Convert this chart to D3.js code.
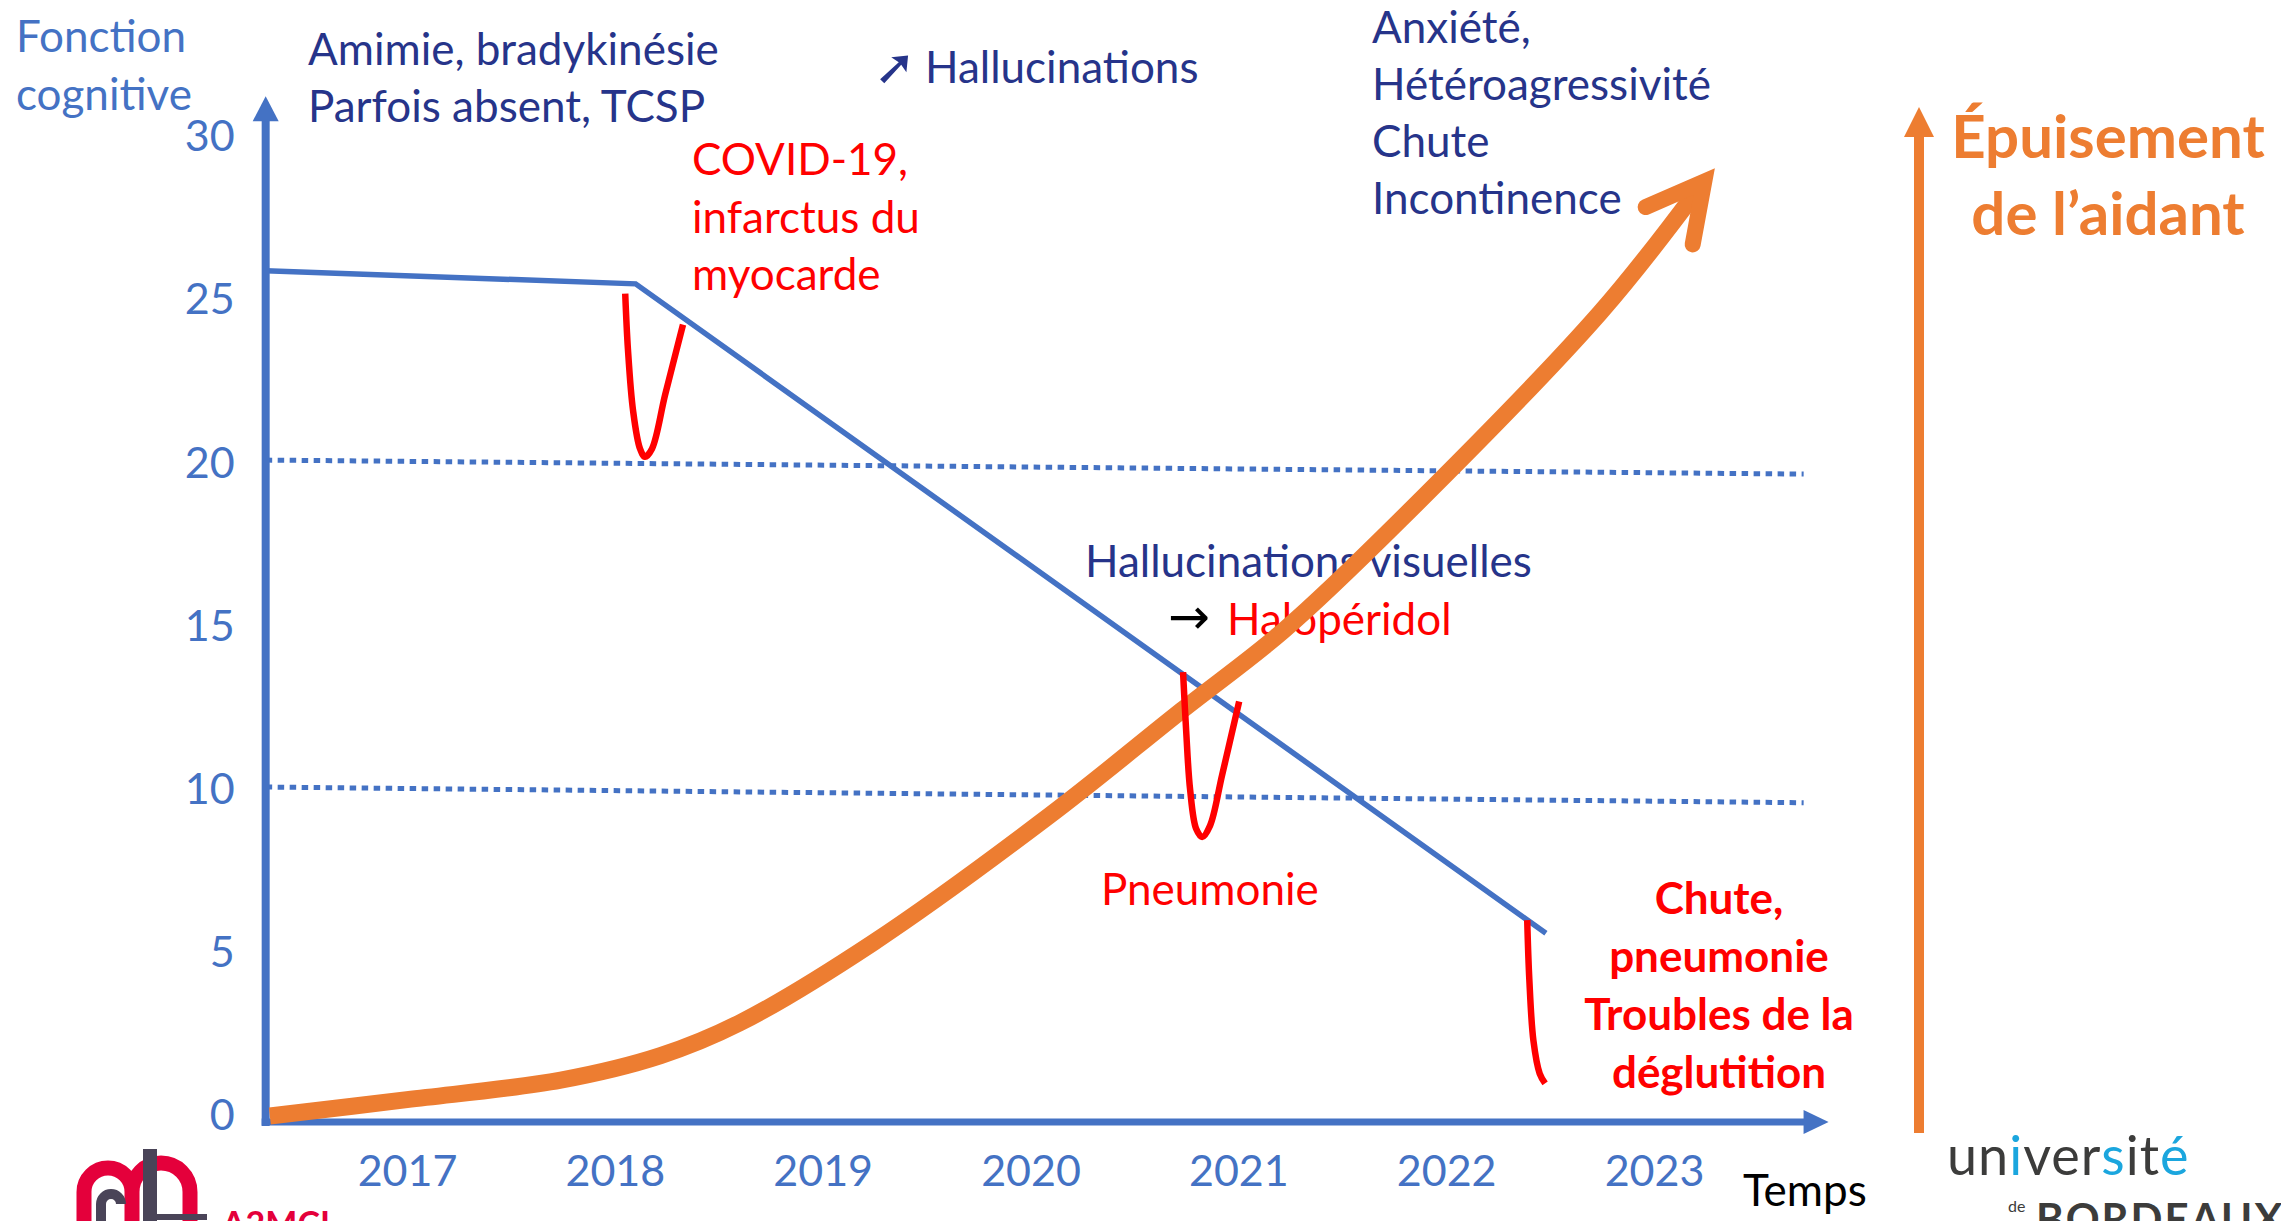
<!DOCTYPE html>
<html>
<head>
<meta charset="utf-8">
<script src="https://cdn.jsdelivr.net/npm/d3@7"></script>
<style>
  body { margin: 0; background: #fff; }
  svg { display: block; font-family: Lato, "Open Sans", sans-serif; }
</style>
</head>
<body>
<div id="chart"></div>
<script>
// ---- data ----
const years = [2017, 2018, 2019, 2020, 2021, 2022, 2023];
const scoreTicks = [0, 5, 10, 15, 20, 25, 30];

// cognitive function (blue line)
const cogYears = [2016.32, 2018.1, 2022.48];
const cogScores = [25.9, 25.5, 5.6];

// dotted thresholds, drawn slightly slanted as on the slide
const refYears = [2016.32, 2023.72];
const ref20 = [20.1, 19.67];
const ref10 = [10.08, 9.6];

// red acute events
const covidYears = [2018.05, 2018.063, 2018.088, 2018.121, 2018.145, 2018.179, 2018.242, 2018.328];
const covidScores = [25.2, 23.5, 21.6, 20.45, 20.2, 20.45, 22.1, 24.25];
const pneumoYears = [2020.734, 2020.749, 2020.768, 2020.797, 2020.826, 2020.864, 2020.922, 2021.004];
const pneumoScores = [13.6, 11.8, 10.0, 8.8, 8.55, 8.9, 10.45, 12.7];
const finalYears = [2022.39, 2022.40, 2022.42, 2022.45, 2022.476];
const finalScores = [6.0, 4.2, 2.3, 1.3, 1.0];

// caregiver burden (orange curve), same scales
const burdenYears = [2016.34, 2017.0, 2017.74, 2018.22, 2018.6, 2019.24, 2020.09, 2020.73, 2021.22, 2021.78, 2022.74, 2023.2];
const burdenScores = [0, 0.5, 1.1, 1.85, 2.85, 5.3, 9.2, 12.44, 14.89, 18.27, 24.61, 28.3];

// texts
const yTitle = ["Fonction", "cognitive"];
const xTitle = "Temps";
const motorNotes = ["Amimie, bradykinésie", "Parfois absent, TCSP"];
const hallucNote = "Hallucinations";
const covidNote = ["COVID-19,", "infarctus du", "myocarde"];
const lateNotes = ["Anxiété,", "Hétéroagressivité", "Chute", "Incontinence"];
const visualNote = "Hallucinations visuelles";
const treatNote = "Halopéridol";
const pneumoNote = "Pneumonie";
const finalNotes = ["Chute,", "pneumonie", "Troubles de la", "déglutition"];
const caregiverNote = ["Épuisement", "de l’aidant"];

// ---- drawing ----
const W = 2281, H = 1221;
const BLUE = "#4472C4", NAVY = "#26348A", RED = "#FF0000", ORANGE = "#ED7D31";
const FS = 44;

const x = d3.scaleLinear().domain([2017, 2023]).range([407, 1654]);
const y = d3.scaleLinear().domain([0, 30]).range([1116, 137]);

const svg = d3.select("#chart").append("svg")
  .attr("width", W).attr("height", H);
svg.append("rect").attr("width", W).attr("height", H).attr("fill", "#fff");

const zip = (xs, ys) => xs.map((d, i) => [d, ys[i]]);
const line = d3.line().x(d => x(d[0])).y(d => y(d[1]));
const smooth = d3.line().x(d => x(d[0])).y(d => y(d[1])).curve(d3.curveCatmullRom.alpha(0.5));

// dotted reference lines
[ref20, ref10].forEach(r => {
  svg.append("path")
    .datum(zip(refYears, r))
    .attr("d", line)
    .attr("fill", "none")
    .attr("stroke", BLUE)
    .attr("stroke-width", 5)
    .attr("stroke-dasharray", "6.5,5.5");
});

// cognitive line
svg.append("path")
  .datum(zip(cogYears, cogScores))
  .attr("d", line)
  .attr("fill", "none")
  .attr("stroke", BLUE)
  .attr("stroke-width", 5.5);

// axes
const x0 = x(cogYears[0]);
const yBase = y(0) + 6;
const xTip = x(2023.84), yTip = y(31.25);

svg.append("line")
  .attr("x1", x0).attr("x2", x0).attr("y1", yBase + 4).attr("y2", yTip + 20)
  .attr("stroke", BLUE).attr("stroke-width", 8);
svg.append("path")
  .attr("d", `M${x0 - 13},${yTip + 25}L${x0},${yTip}L${x0 + 13},${yTip + 25}Z`)
  .attr("fill", BLUE);
svg.append("line")
  .attr("x1", x0 - 4).attr("x2", xTip - 20).attr("y1", yBase).attr("y2", yBase)
  .attr("stroke", BLUE).attr("stroke-width", 7);
svg.append("path")
  .attr("d", `M${xTip - 25},${yBase - 12}L${xTip},${yBase}L${xTip - 25},${yBase + 12}Z`)
  .attr("fill", BLUE);

const yAxis = svg.append("g")
  .attr("transform", `translate(${x0},0)`)
  .call(d3.axisLeft(y).tickValues(scoreTicks).tickSize(0).tickPadding(31));
const xAxis = svg.append("g")
  .attr("transform", `translate(0,${y(0)})`)
  .call(d3.axisBottom(x).tickValues(years).tickFormat(d3.format("d")).tickSize(0).tickPadding(39));
[yAxis, xAxis].forEach(g => {
  g.select(".domain").remove();
  g.selectAll("text")
    .attr("fill", BLUE)
    .style("font-family", "Lato, sans-serif")
    .style("font-size", "43px");
});

// text helper
function lines(arr, px, py, step, opts) {
  const t = svg.append("text")
    .attr("x", px).attr("y", py)
    .attr("fill", opts.color)
    .attr("text-anchor", opts.anchor || "start")
    .style("font-size", opts.size + "px")
    .style("font-weight", opts.weight || "normal");
  arr.forEach((s, i) => {
    t.append("tspan").attr("x", px).attr("y", py + i * step).text(s);
  });
  return t;
}

lines(yTitle, 16, 52, 58, { color: BLUE, size: FS });
lines(motorNotes, 308, 65, 57, { color: NAVY, size: FS });
svg.append("text")
  .attr("x", 874).attr("y", 84)
  .attr("fill", NAVY)
  .style("font-family", "DejaVu Sans")
  .style("font-size", "50px")
  .style("font-weight", "bold")
  .text("➚");
lines([hallucNote], 925, 83, 0, { color: NAVY, size: FS });
lines(covidNote, 692, 175, 57.5, { color: RED, size: FS });
lines(lateNotes, 1372, 43, 57, { color: NAVY, size: FS });
lines([visualNote], 1085, 577, 0, { color: NAVY, size: FS });
svg.append("text")
  .attr("x", 1168).attr("y", 634)
  .attr("fill", "#000")
  .style("font-family", "DejaVu Sans")
  .style("font-size", "50px")
  .text("→");
lines([treatNote], 1227, 635, 0, { color: RED, size: FS });
lines([pneumoNote], 1101, 905, 0, { color: RED, size: FS });
lines(finalNotes, 1719, 914, 58, { color: RED, size: 44, weight: "bold", anchor: "middle" });
lines([xTitle], 1743, 1206, 0, { color: "#000", size: FS });

// caregiver burden curve with open arrow head
const burden = zip(burdenYears, burdenScores);
svg.append("path")
  .datum(burden)
  .attr("d", smooth)
  .attr("fill", "none")
  .attr("stroke", ORANGE)
  .attr("stroke-width", 17)
  .attr("stroke-linecap", "butt");

const pEnd = burden[burden.length - 1], pPrev = burden[burden.length - 2];
const ex = x(pEnd[0]), ey = y(pEnd[1]);
const ang = Math.atan2(ey - y(pPrev[1]), ex - x(pPrev[0]));
const tipX = ex + 14 * Math.cos(ang), tipY = ey + 14 * Math.sin(ang);
const barb = 64, spread = 28 * Math.PI / 180;
const b1 = [tipX - barb * Math.cos(ang - spread), tipY - barb * Math.sin(ang - spread)];
const b2 = [tipX - barb * Math.cos(ang + spread), tipY - barb * Math.sin(ang + spread)];
svg.append("path")
  .attr("d", `M${b1[0]},${b1[1]}L${tipX},${tipY}L${b2[0]},${b2[1]}`)
  .attr("fill", "none")
  .attr("stroke", ORANGE)
  .attr("stroke-width", 16)
  .attr("stroke-linecap", "round")
  .attr("stroke-linejoin", "miter");

// red acute events
[[covidYears, covidScores], [pneumoYears, pneumoScores], [finalYears, finalScores]].forEach(([xs, ys]) => {
  svg.append("path")
    .datum(zip(xs, ys))
    .attr("d", smooth)
    .attr("fill", "none")
    .attr("stroke", RED)
    .attr("stroke-width", 6.5);
});

// caregiver exhaustion arrow + label
const ax = 1919;
svg.append("line")
  .attr("x1", ax).attr("x2", ax).attr("y1", 1133).attr("y2", 132)
  .attr("stroke", ORANGE).attr("stroke-width", 10);
svg.append("path")
  .attr("d", `M${ax - 15},137L${ax},107L${ax + 15},137Z`)
  .attr("fill", ORANGE);
lines(caregiverNote, 2108, 158, 77, { color: ORANGE, size: 60, weight: "bold", anchor: "middle" });

// A2MCL logo (approximation)
const logo = svg.append("g");
logo.append("path")
  .attr("d", "M84,1221V1192A24,24 0 0 1 132,1192V1221M132,1192A29,29 0 0 1 190,1192V1221")
  .attr("fill", "none").attr("stroke", "#E4003B").attr("stroke-width", 15);
logo.append("path")
  .attr("d", "M101,1221V1204A10,10 0 0 1 121,1204")
  .attr("fill", "none").attr("stroke", "#4A4458").attr("stroke-width", 10);
logo.append("rect").attr("x", 143).attr("y", 1149).attr("width", 14).attr("height", 72).attr("fill", "#4A4458");
logo.append("rect").attr("x", 157).attr("y", 1214).attr("width", 50).attr("height", 6).attr("fill", "#4A4458");
logo.append("text").attr("x", 222).attr("y", 1236).attr("fill", "#E4003B")
  .style("font-size", "34px").style("font-weight", "bold").text("A2MCL");

// université de Bordeaux logo (approximation)
const ub = svg.append("text").attr("x", 1947).attr("y", 1175)
  .style("font-size", "54px").style("letter-spacing", "1px").attr("fill", "#3C3C3B");
[["un", "#3C3C3B"], ["i", "#1BA6DE"], ["ver", "#3C3C3B"], ["s", "#1BA6DE"], ["it", "#3C3C3B"], ["é", "#1BA6DE"]]
  .forEach(([s, c]) => ub.append("tspan").attr("fill", c).text(s));
svg.append("text").attr("x", 2008).attr("y", 1212).attr("fill", "#3C3C3B")
  .style("font-size", "16px").text("de");
svg.append("text").attr("x", 2036).attr("y", 1234).attr("fill", "#3C3C3B")
  .style("font-size", "42px").style("font-weight", "bold").style("letter-spacing", "2px").text("BORDEAUX");
</script>
</body>
</html>
